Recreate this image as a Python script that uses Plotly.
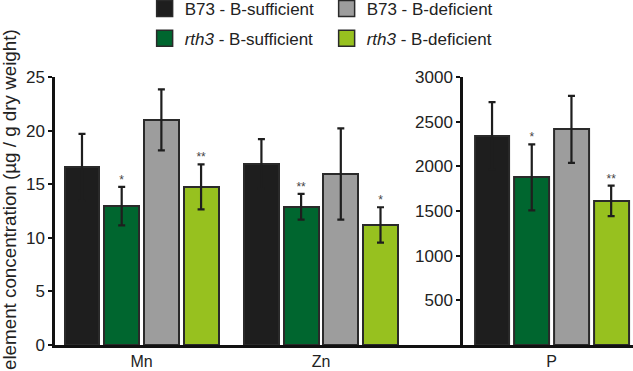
import plotly.graph_objects as go

# ---- data ----
elements = ["Mn", "Zn", "P"]
series_names = ["B73 - B-sufficient", "<i>rth3</i> - B-sufficient",
                "B73 - B-deficient", "<i>rth3</i> - B-deficient"]
y_title = "element concentration (µg / g dry weight)"
b73_suf = [16.6, 16.9, 2340]
b73_suf_err = [3.1, 2.3, 378]
rth3_suf = [12.95, 12.9, 1876]
rth3_suf_err = [1.8, 1.2, 370]
b73_def = [21.0, 15.95, 2414]
b73_def_err = [2.85, 4.25, 375]
rth3_def = [14.75, 11.2, 1613]
rth3_def_err = [2.1, 1.65, 170]
sig_rth3_suf = ["*", "**", "*"]
sig_rth3_def = ["**", "*", "**"]
left_ticks = [0, 5, 10, 15, 20, 25]
right_ticks = [500, 1000, 1500, 2000, 2500, 3000]

# ---- styling ----
colors = ["#1e1e1e", "#00662f", "#9d9d9d", "#97c11f"]
outline = "#2a2a2a"
FONT = "Liberation Sans, Arial, sans-serif"
offsets = [-1.5, -0.5, 0.5, 1.5]
group_pos_left = [0.0, 4.52]   # Mn, Zn on left axis
group_pos_right = [0.0]        # P on right axis
bar_w = 0.88

values = [b73_suf, rth3_suf, b73_def, rth3_def]
errors = [b73_suf_err, rth3_suf_err, b73_def_err, rth3_def_err]
sigs = [None, sig_rth3_suf, None, sig_rth3_def]
legend_of = ["legend", "legend2", "legend", "legend2"]

fig = go.Figure()

for i in range(4):
    for xa, ya, idx, gpos in (("x", "y", [0, 1], group_pos_left),
                              ("x2", "y2", [2], group_pos_right)):
        xs = [g + offsets[i] for g in gpos]
        ys = [values[i][k] for k in idx]
        es = [errors[i][k] for k in idx]
        fig.add_trace(go.Bar(
            x=xs, y=ys, width=bar_w, xaxis=xa, yaxis=ya,
            marker=dict(color=colors[i], line=dict(color=outline, width=2)),
            error_y=dict(type="data", array=es, visible=True,
                         color="#1e1e1e", thickness=2.2, width=3.5),
            showlegend=False, hoverinfo="skip"))
        if sigs[i] is not None:
            fig.add_trace(go.Scatter(
                x=xs, y=[y + e for y, e in zip(ys, es)],
                xaxis=xa, yaxis=ya, mode="text",
                text=[sigs[i][k] for k in idx], textposition="top center",
                textfont=dict(size=12, color="#444", family=FONT),
                showlegend=False, hoverinfo="skip", cliponaxis=False))

# legend entries (square swatches)
for i in [0, 2, 1, 3]:
    fig.add_trace(go.Scatter(
        x=[None], y=[None], mode="markers", name=series_names[i],
        marker=dict(symbol="square", size=16, color=colors[i],
                    line=dict(color=outline, width=1.5)),
        legend=legend_of[i], showlegend=True))

axis_common = dict(showline=True, linecolor="#111", linewidth=2.5,
                   showgrid=False, zeroline=False, automargin=False)

fig.update_layout(
    width=633, height=371,
    margin=dict(l=55, r=0, t=77, b=26, autoexpand=False),
    paper_bgcolor="white", plot_bgcolor="white",
    font=dict(family=FONT, color="#222", size=16),
    bargap=0,
    xaxis=dict(domain=[0, 0.706], range=[-2.18, 8.1],
               tickvals=group_pos_left, ticktext=elements[:2],
               ticks="", tickfont=dict(size=16), **axis_common),
    xaxis2=dict(domain=[0.706, 1], range=[-2.23, 2.05], anchor="y2",
                tickvals=group_pos_right, ticktext=elements[2:],
                ticks="", tickfont=dict(size=16), **axis_common),
    yaxis=dict(range=[0, 25], tickvals=left_ticks, ticks="outside",
               ticklen=4, tickwidth=2, tickcolor="#111",
               tickfont=dict(size=17), **axis_common),
    yaxis2=dict(range=[0, 3000], tickvals=right_ticks, anchor="x2",
                ticks="outside", ticklen=4, tickwidth=2, tickcolor="#111",
                tickfont=dict(size=17), **axis_common),
    annotations=[dict(text=y_title, textangle=-90, showarrow=False,
                      xref="paper", yref="paper",
                      x=(9.5 - 55) / 578, y=(345 - 199.5) / 268,
                      xanchor="center", yanchor="middle",
                      font=dict(size=18.8, color="#222"))],
    legend=dict(orientation="h", xref="container", yref="container",
                x=0.2285, y=0.9757, xanchor="left", yanchor="middle",
                entrywidth=137, font=dict(size=17), bgcolor="rgba(0,0,0,0)"),
    legend2=dict(orientation="h", xref="container", yref="container",
                 x=0.2285, y=0.8957, xanchor="left", yanchor="middle",
                 entrywidth=137, font=dict(size=17), bgcolor="rgba(0,0,0,0)"),
)

fig.write_html("out.html", config={"displayModeBar": False},
               post_script="document.body.style.margin='0';")
